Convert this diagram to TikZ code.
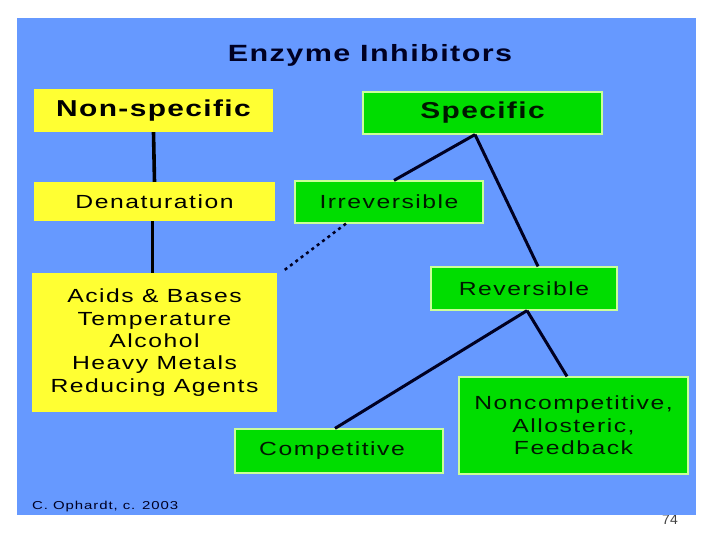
\documentclass[tikz,border=0pt]{standalone}
\usepackage{fontspec}
\setmainfont{Liberation Sans}
\newfontfamily\widereg[FakeStretch=1.3,LetterSpace=8]{Liberation Sans}
\newfontfamily\widebold[FakeStretch=1.3,LetterSpace=6]{Liberation Sans}
\usetikzlibrary{calc}
\definecolor{bgblue}{HTML}{6699FF}
\definecolor{ylw}{HTML}{FFFF33}
\definecolor{grn}{HTML}{00DD00}
\definecolor{grnedge}{HTML}{CCFF99}
\definecolor{navy}{HTML}{000022}
\definecolor{darktext}{HTML}{001800}
\begin{document}
\begin{tikzpicture}[x=1pt,y=-1pt,
  ybox/.style={fill=ylw, draw=none, inner sep=0pt, text=black, align=center,
    font=\widereg\fontsize{19}{22.4}\selectfont},
  gbox/.style={fill=grn, draw=grnedge, line width=1.2pt, inner sep=0pt, text=darktext, align=center,
    font=\widereg\fontsize{19}{22.4}\selectfont},
  boldtxt/.style={font=\widebold\bfseries\fontsize{23}{27}\selectfont},
  link/.style={draw=navy, line width=3pt},
  vlink/.style={draw=black, line width=3.6pt},
  dotlink/.style={draw=navy, line width=2.5pt, dash pattern=on 3pt off 3.7pt}]
\useasboundingbox (0,0) rectangle (720,540);
% page number, partly hidden by the slide
\node[anchor=base, inner sep=0pt, text=black!75, font=\fontsize{14}{14}\selectfont] (pg) at (670,524) {74};
\fill[bgblue] (17,18) rectangle (696,515);
% title and credit
\node[anchor=base, inner sep=0pt, text=navy, font=\widebold\bfseries\fontsize{23.5}{28}\selectfont] (title) at (370,62) {Enzyme Inhibitors};
\node[anchor=base west, inner sep=0pt, text=navy, font=\widereg\fontsize{11.5}{14}\selectfont] (credit) at (32,509) {C. Ophardt, c. 2003};
% boxes
\node[ybox, boldtxt, minimum width=239pt, minimum height=43pt] (nonspec) at (153.5,110.5) {Non-specific};
\node[ybox, minimum width=241pt, minimum height=39pt] (denat) at (154.5,201.5) {\raisebox{-2.5pt}{Denaturation}};
\node[ybox, minimum width=245pt, minimum height=139pt] (acids) at (154.5,342.5)
  {Acids \& Bases\\Temperature\\Alcohol\\Heavy Metals\\Reducing Agents};
\node[gbox, boldtxt, minimum width=239pt, minimum height=42pt] (spec) at (482.5,113) {Specific};
\node[gbox, minimum width=188pt, minimum height=42pt] (irrev) at (389,202) {Irreversible};
\node[gbox, minimum width=186pt, minimum height=43pt] (rev) at (524,288.5) {Reversible};
\node[gbox, minimum width=208pt, minimum height=44pt] (comp) at (339,451) {\raisebox{-3pt}{Competitive}\hspace{14pt}};
\node[gbox, minimum width=229pt, minimum height=97pt] (noncomp) at (573.5,425.5)
  {Noncompetitive,\\Allosteric,\\Feedback};
% connectors
\draw[vlink] (nonspec.south) -- (denat.north);
\draw[vlink] ([xshift=-2pt]denat.south) -- ([xshift=-2pt]acids.north);
\draw[link] ([xshift=-7.5pt]spec.south) -- ([xshift=5pt]irrev.north);
\draw[link] ([xshift=-7.5pt]spec.south) -- ([xshift=14pt]rev.north);
\draw[dotlink] ([xshift=-43pt]irrev.south) -- ([shift={(5pt,1pt)}]acids.north east);
\draw[link] ([xshift=3pt]rev.south) -- ([xshift=-4pt]comp.north);
\draw[link] ([xshift=3pt]rev.south) -- ([xshift=-6.5pt]noncomp.north);
\end{tikzpicture}
\end{document}
